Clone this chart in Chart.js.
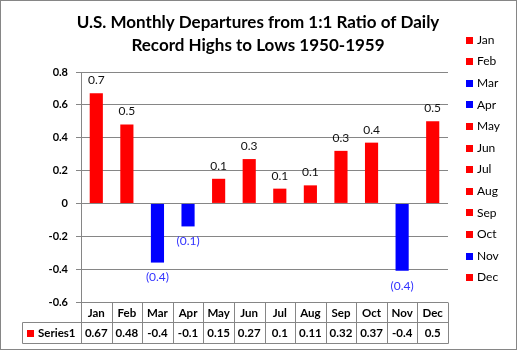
<!DOCTYPE html>
<html>
<head>
<meta charset="utf-8">
<script src="https://cdn.jsdelivr.net/npm/chart.js@4.4.1/dist/chart.umd.min.js"></script>
<style>
  html, body { margin: 0; padding: 0; background: #fff; }
  #contenedor { width: 517px; height: 350px; position: relative; }
</style>
</head>
<body>
<div id="contenedor"><canvas id="grafica_records"></canvas></div>
<script>
const meses = ["Jan", "Feb", "Mar", "Apr", "May", "Jun", "Jul", "Aug", "Sep", "Oct", "Nov", "Dec"];
const valores = [0.67, 0.48, -0.36, -0.14, 0.15, 0.27, 0.09, 0.11, 0.32, 0.37, -0.41, 0.5];
const valoresTabla = ["0.67", "0.48", "-0.4", "-0.1", "0.15", "0.27", "0.1", "0.11", "0.32", "0.37", "-0.4", "0.5"];
const etiquetas = ["0.7", "0.5", "(0.4)", "(0.1)", "0.1", "0.3", "0.1", "0.1", "0.3", "0.4", "(0.4)", "0.5"];
const ticksY = [-0.6, -0.4, -0.2, 0, 0.2, 0.4, 0.6, 0.8];
const titulo = ["U.S. Monthly Departures from 1:1 Ratio of Daily", "Record Highs to Lows 1950-1959"];
const nombreSerie = "Series1";

const ROJO = "#FF0000";
const AZUL = "#0000FF";
const GRIS = "#868686";
const FUENTE = "Lato, 'Open Sans', sans-serif";

const colores = valores.map(v => v < 0 ? AZUL : ROJO);

function linea(ctx, x1, y1, x2, y2) {
  ctx.beginPath();
  ctx.moveTo(x1, y1);
  ctx.lineTo(x2, y2);
  ctx.stroke();
}

const extras = {
  id: "extras",
  afterDraw(chart) {
    const ctx = chart.ctx;
    const area = chart.chartArea;
    const barras = chart.getDatasetMeta(0).data;
    ctx.save();

    // titulo
    ctx.fillStyle = "#000";
    ctx.font = "bold 17px " + FUENTE;
    ctx.textAlign = "center";
    ctx.textBaseline = "middle";
    ctx.fillText(titulo[0], 258, 23);
    ctx.fillText(titulo[1], 258, 46);

    // etiquetas de datos
    ctx.font = "12px " + FUENTE;
    barras.forEach((b, i) => {
      if (valores[i] < 0) {
        ctx.fillStyle = "#3333FF";
        ctx.fillText(etiquetas[i], b.x, b.y + 15);
      } else {
        ctx.fillStyle = "#111";
        ctx.fillText(etiquetas[i], b.x, b.y - 13);
      }
    });

    // leyenda
    ctx.textAlign = "left";
    meses.forEach((m, i) => {
      const y = 40 + i * 21.6;
      ctx.fillStyle = colores[i];
      ctx.fillRect(466, Math.round(y - 3.5), 7, 7);
      ctx.fillStyle = "#000";
      ctx.fillText(m, 477, y);
    });

    // tabla de datos
    const ancho = (area.right - area.left) / meses.length;
    const y0 = Math.round(area.bottom) + 0.5;
    const y1 = y0 + 20;
    const y2 = y1 + 21;
    const xIni = 22.5;
    ctx.strokeStyle = GRIS;
    ctx.lineWidth = 1;
    linea(ctx, xIni, y1, Math.round(area.right) + 0.5, y1);
    linea(ctx, xIni, y2, Math.round(area.right) + 0.5, y2);
    linea(ctx, xIni, y1, xIni, y2);
    for (let i = 0; i <= meses.length; i++) {
      const x = Math.round(area.left + i * ancho) + 0.5;
      linea(ctx, x, y0, x, y2);
    }
    ctx.fillStyle = "#000";
    ctx.font = "bold 11.5px " + FUENTE;
    ctx.textAlign = "center";
    meses.forEach((m, i) => {
      const xc = area.left + (i + 0.5) * ancho;
      ctx.fillText(m, xc, y0 + 10.5);
      ctx.fillText(valoresTabla[i], xc, y1 + 11);
    });
    ctx.fillStyle = ROJO;
    ctx.fillRect(27, Math.round(y1 + 7), 7, 7);
    ctx.fillStyle = "#000";
    ctx.textAlign = "left";
    ctx.fillText(nombreSerie, 38, y1 + 11);

    // borde exterior
    ctx.strokeStyle = GRIS;
    ctx.strokeRect(0.5, 0.5, chart.width - 1, chart.height - 1);
    ctx.restore();
  }
};

const ctx1 = document.getElementById("grafica_records").getContext("2d");

const grafica = new Chart(ctx1, {
  type: "bar",
  data: {
    labels: meses,
    datasets: [
      {
        label: nombreSerie,
        data: valores,
        backgroundColor: colores,
        barPercentage: 0.43,
        categoryPercentage: 1,
      },
    ],
  },
  options: {
    responsive: true,
    maintainAspectRatio: false,
    animation: false,
    layout: {
      padding: { top: 72, right: 69, bottom: 48, left: 0 },
    },
    scales: {
      x: {
        display: false,
      },
      y: {
        min: -0.6,
        max: 0.8,
        afterBuildTicks: s => { s.ticks = ticksY.map(v => ({ value: v })); },
        afterFit: s => { s.width = 81; },
        ticks: {
          callback: v => String(v),
          color: "#000",
          padding: 8,
          font: { family: FUENTE, size: 11, weight: "bold" },
        },
        grid: { color: GRIS, tickLength: 5 },
        border: { color: GRIS },
      },
    },
    plugins: {
      legend: { display: false },
      tooltip: { enabled: false },
      title: { display: false },
    },
  },
  plugins: [extras],
});
</script>
</body>
</html>
